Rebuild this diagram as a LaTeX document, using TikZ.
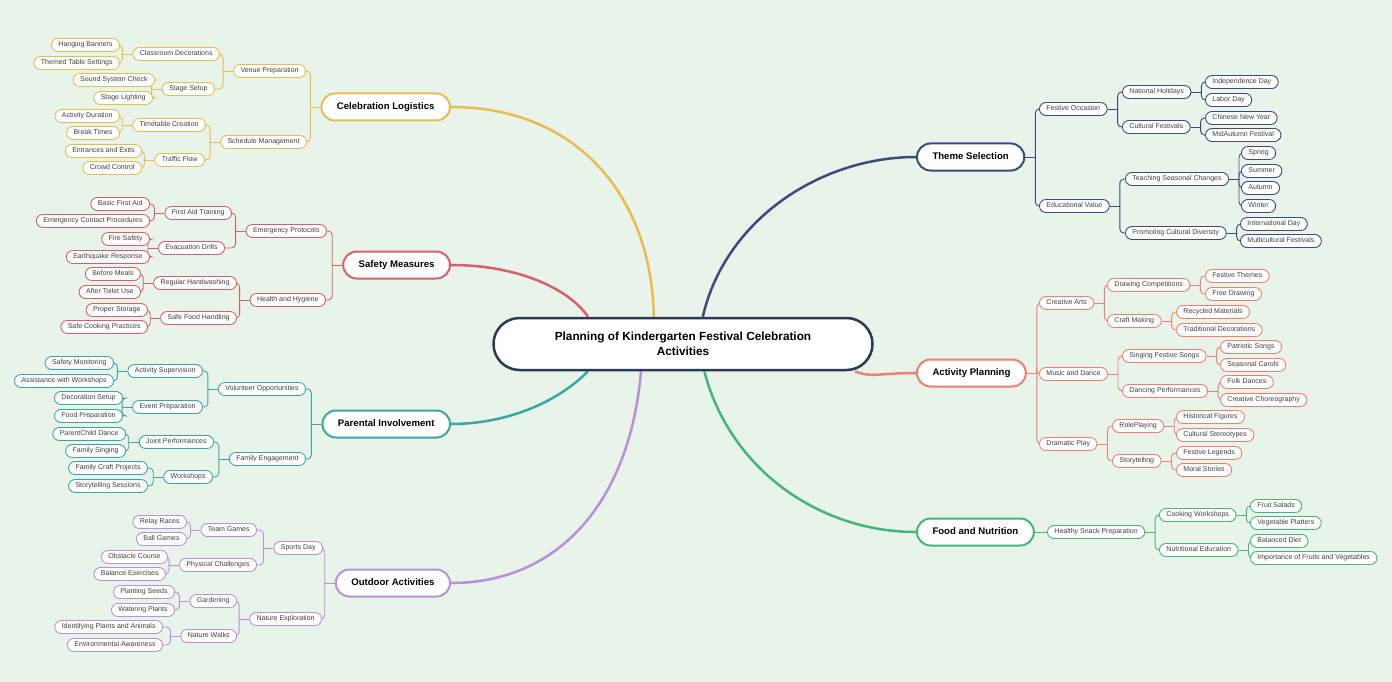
\documentclass[tikz,border=0pt]{standalone}
\usepackage{fontspec}
\setmainfont{Liberation Sans}
\usetikzlibrary{calc}
\definecolor{bgc}{HTML}{E8F3EA}
\definecolor{cY}{HTML}{E8BC50}
\definecolor{cR}{HTML}{D9606B}
\definecolor{cT}{HTML}{3AA8A0}
\definecolor{cP}{HTML}{B990DB}
\definecolor{cN}{HTML}{3E497C}
\definecolor{cS}{HTML}{F07F70}
\definecolor{cG}{HTML}{45B57C}
\definecolor{cC}{HTML}{2A3A4F}
\pgfdeclarelayer{back}\pgfdeclarelayer{edges}
\pgfsetlayers{back,edges,main}
\tikzset{
 mainnode/.style={draw, line width=2pt, fill=white, rounded corners=13.5pt, minimum height=27pt, inner xsep=15.5pt, inner ysep=0pt, text height=6.8pt, text depth=2.2pt, font=\fontsize{9.6}{11}\selectfont\bfseries, text=black},
 subnode/.style={draw, line width=0.9pt, fill=white, rounded corners=6.5pt, minimum height=13pt, inner xsep=7pt, inner ysep=0pt, text height=4.7pt, text depth=1.9pt, font=\fontsize{7}{8}\selectfont, text=black!75},
 conn/.style={line width=0.9pt},
 maincurve/.style={line width=2.5pt},
 centralnode/.style={draw=cC, line width=2.5pt, fill=white, rounded corners=26pt, minimum width=379pt, minimum height=52pt, align=center, font=\fontsize{11.8}{15}\selectfont\bfseries},
}
\newcommand\mmLeft[3]{%
 \draw[conn,#1] (#2.west) -- ++(-10,0) coordinate (#2-b);
 \foreach \k in {#3} {\draw[conn,#1,rounded corners=4pt] (#2-b) |- (\k.east);}
}
\newcommand\mmRight[3]{%
 \draw[conn,#1] (#2.east) -- ++(10,0) coordinate (#2-b);
 \foreach \k in {#3} {\draw[conn,#1,rounded corners=4pt] (#2-b) |- (\k.west);}
}
\begin{document}
\begin{tikzpicture}[x=1pt,y=-1pt]
\begin{pgfonlayer}{back}
\fill[bgc] (0,0) rectangle (1392,682);
\end{pgfonlayer}
\useasboundingbox (0,0) rectangle (1392,682);

\node[centralnode] (c) at (683,344) {Planning of Kindergarten Festival Celebration\\Activities};

% ---------- Celebration Logistics
\begin{scope}[every node/.append style={anchor=east}]
\node[mainnode,draw=cY] (cl) at (451,107) {Celebration Logistics};
\node[subnode,draw=cY] (vp) at (306,71) {Venue Preparation};
\node[subnode,draw=cY] (smg) at (307,142) {Schedule Management};
\node[subnode,draw=cY] (cd) at (220,54) {Classroom Decorations};
\node[subnode,draw=cY] (ss) at (215,89) {Stage Setup};
\node[subnode,draw=cY] (tc) at (206,125) {Timetable Creation};
\node[subnode,draw=cY] (tf) at (205,160) {Traffic Flow};
\node[subnode,draw=cY] (hb) at (120,45) {Hanging Banners};
\node[subnode,draw=cY] (tts) at (120,63) {Themed Table Settings};
\node[subnode,draw=cY] (ssc) at (155,80) {Sound System Check};
\node[subnode,draw=cY] (sl) at (153,98) {Stage Lighting};
\node[subnode,draw=cY] (ad) at (120,116) {Activity Duration};
\node[subnode,draw=cY] (bt) at (120,133) {Break Times};
\node[subnode,draw=cY] (ee) at (142,151) {Entrances and Exits};
\node[subnode,draw=cY] (cc) at (142,168) {Crowd Control};
% ---------- Safety Measures
\node[mainnode,draw=cR] (sf) at (451,265) {Safety Measures};
\node[subnode,draw=cR] (ep) at (327,231) {Emergency Protocols};
\node[subnode,draw=cR] (hh) at (326,300) {Health and Hygiene};
\node[subnode,draw=cR] (fat) at (232,213) {First Aid Training};
\node[subnode,draw=cR] (evd) at (225,248) {Evacuation Drills};
\node[subnode,draw=cR] (rh) at (237,283) {Regular Handwashing};
\node[subnode,draw=cR] (sfh) at (237,318) {Safe Food Handling};
\node[subnode,draw=cR] (bfa) at (150,204) {Basic First Aid};
\node[subnode,draw=cR] (ecp) at (150,221) {Emergency Contact Procedures};
\node[subnode,draw=cR] (fs) at (150,239) {Fire Safety};
\node[subnode,draw=cR] (er) at (150,257) {Earthquake Response};
\node[subnode,draw=cR] (bm) at (141,274) {Before Meals};
\node[subnode,draw=cR] (atu) at (141,292) {After Toilet Use};
\node[subnode,draw=cR] (ps) at (148,310) {Proper Storage};
\node[subnode,draw=cR] (scp) at (148,327) {Safe Cooking Practices};
% ---------- Parental Involvement
\node[mainnode,draw=cT] (pi) at (451,424) {Parental Involvement};
\node[subnode,draw=cT] (vo) at (306,389) {Volunteer Opportunities};
\node[subnode,draw=cT] (fe) at (306,459) {Family Engagement};
\node[subnode,draw=cT] (as) at (203,371) {Activity Supervision};
\node[subnode,draw=cT] (evp) at (203,407) {Event Preparation};
\node[subnode,draw=cT] (jp) at (214,442) {Joint Performances};
\node[subnode,draw=cT] (ws) at (213,477) {Workshops};
\node[subnode,draw=cT] (smo) at (114,363) {Safety Monitoring};
\node[subnode,draw=cT] (aww) at (114,381) {Assistance with Workshops};
\node[subnode,draw=cT] (ds) at (123,398) {Decoration Setup};
\node[subnode,draw=cT] (fp) at (123,416) {Food Preparation};
\node[subnode,draw=cT] (pcd) at (126,434) {ParentChild Dance};
\node[subnode,draw=cT] (fsi) at (126,451) {Family Singing};
\node[subnode,draw=cT] (fcp) at (148,468) {Family Craft Projects};
\node[subnode,draw=cT] (sts) at (148,486) {Storytelling Sessions};
% ---------- Outdoor Activities
\node[mainnode,draw=cP] (oa) at (451,583) {Outdoor Activities};
\node[subnode,draw=cP] (sd) at (323,548) {Sports Day};
\node[subnode,draw=cP] (nex) at (322,619) {Nature Exploration};
\node[subnode,draw=cP] (tg) at (257,530) {Team Games};
\node[subnode,draw=cP] (pc) at (257,565) {Physical Challenges};
\node[subnode,draw=cP] (gd) at (237,601) {Gardening};
\node[subnode,draw=cP] (nw) at (237,636) {Nature Walks};
\node[subnode,draw=cP] (rr) at (187,522) {Relay Races};
\node[subnode,draw=cP] (bgm) at (187,539) {Ball Games};
\node[subnode,draw=cP] (oc) at (168,557) {Obstacle Course};
\node[subnode,draw=cP] (be) at (166,574) {Balance Exercises};
\node[subnode,draw=cP] (pls) at (175,592) {Planting Seeds};
\node[subnode,draw=cP] (wp) at (175,610) {Watering Plants};
\node[subnode,draw=cP] (ipa) at (163,627) {Identifying Plants and Animals};
\node[subnode,draw=cP] (eaw) at (163,645) {Environmental Awareness};
\end{scope}

\begin{scope}[every node/.append style={anchor=west}]
% ---------- Theme Selection
\node[mainnode,draw=cN] (ts) at (916,157) {Theme Selection};
\node[subnode,draw=cN] (fo) at (1039,109) {Festive Occasion};
\node[subnode,draw=cN] (ev) at (1039,206) {Educational Value};
\node[subnode,draw=cN] (nh) at (1122,92) {National Holidays};
\node[subnode,draw=cN] (cf) at (1122,127) {Cultural Festivals};
\node[subnode,draw=cN] (ind) at (1205,82) {Independence Day};
\node[subnode,draw=cN] (ld) at (1205,100) {Labor Day};
\node[subnode,draw=cN] (cny) at (1205,118) {Chinese New Year};
\node[subnode,draw=cN] (maf) at (1205,135) {MidAutumn Festival};
\node[subnode,draw=cN] (tsc) at (1125,179) {Teaching Seasonal Changes};
\node[subnode,draw=cN] (pcdv) at (1125,233) {Promoting Cultural Diversity};
\node[subnode,draw=cN] (spr) at (1241,153) {Spring};
\node[subnode,draw=cN] (sum) at (1241,171) {Summer};
\node[subnode,draw=cN] (aut) at (1241,188) {Autumn};
\node[subnode,draw=cN] (win) at (1241,206) {Winter};
\node[subnode,draw=cN] (intd) at (1240,224) {International Day};
\node[subnode,draw=cN] (mcf) at (1240,241) {Multicultural Festivals};
% ---------- Activity Planning
\node[mainnode,draw=cS] (ap) at (916,373) {Activity Planning};
\node[subnode,draw=cS] (ca) at (1039,303) {Creative Arts};
\node[subnode,draw=cS] (md) at (1039,374) {Music and Dance};
\node[subnode,draw=cS] (dp) at (1039,444) {Dramatic Play};
\node[subnode,draw=cS] (dc) at (1107,285) {Drawing Competitions};
\node[subnode,draw=cS] (cm) at (1107,321) {Craft Making};
\node[subnode,draw=cS] (fth) at (1205,276) {Festive Themes};
\node[subnode,draw=cS] (fd) at (1205,294) {Free Drawing};
\node[subnode,draw=cS] (rm) at (1176,312) {Recycled Materials};
\node[subnode,draw=cS] (td) at (1176,330) {Traditional Decorations};
\node[subnode,draw=cS] (sfs) at (1122,356) {Singing Festive Songs};
\node[subnode,draw=cS] (dpf) at (1122,391) {Dancing Performances};
\node[subnode,draw=cS] (pas) at (1220,347) {Patriotic Songs};
\node[subnode,draw=cS] (sc) at (1220,365) {Seasonal Carols};
\node[subnode,draw=cS] (fkd) at (1220,382) {Folk Dances};
\node[subnode,draw=cS] (cch) at (1220,400) {Creative Choreography};
\node[subnode,draw=cS] (rp) at (1112,426) {RolePlaying};
\node[subnode,draw=cS] (st) at (1112,461) {Storytelling};
\node[subnode,draw=cS] (hf) at (1176,417) {Historical Figures};
\node[subnode,draw=cS] (cs) at (1176,435) {Cultural Stereotypes};
\node[subnode,draw=cS] (fl) at (1176,453) {Festive Legends};
\node[subnode,draw=cS] (ms) at (1176,470) {Moral Stories};
% ---------- Food and Nutrition
\node[mainnode,draw=cG] (fn) at (916,532) {Food and Nutrition};
\node[subnode,draw=cG] (hs) at (1047,532) {Healthy Snack Preparation};
\node[subnode,draw=cG] (cw) at (1159,515) {Cooking Workshops};
\node[subnode,draw=cG] (nue) at (1159,550) {Nutritional Education};
\node[subnode,draw=cG] (fsa) at (1250,506) {Fruit Salads};
\node[subnode,draw=cG] (vpl) at (1250,523) {Vegetable Platters};
\node[subnode,draw=cG] (bd) at (1250,541) {Balanced Diet};
\node[subnode,draw=cG] (ifv) at (1250,558) {Importance of Fruits and Vegetables};
\end{scope}

\begin{pgfonlayer}{edges}
% main curves
\draw[maincurve,cY] (c.137) .. controls (652,200) and (580,107) .. (cl.east);
\draw[maincurve,cR] (c.164) .. controls (570,290) and (520,265) .. (sf.east);
\draw[maincurve,cT] (c.196) .. controls (560,400) and (510,424) .. (pi.east);
\draw[maincurve,cP] (c.213) .. controls (630,500) and (560,583) .. (oa.east);
\draw[maincurve,cN] (c.54) .. controls (725,220) and (820,157) .. (ts.west);
\draw[maincurve,cS] (c.351) .. controls (870,378) and (880,373) .. (ap.west);
\draw[maincurve,cG] (c.308) .. controls (730,470) and (820,532) .. (fn.west);
% left trees
\mmLeft{cY}{cl}{vp,smg}
\mmLeft{cY}{vp}{cd,ss}
\mmLeft{cY}{smg}{tc,tf}
\mmLeft{cY}{cd}{hb,tts}
\mmLeft{cY}{ss}{ssc,sl}
\mmLeft{cY}{tc}{ad,bt}
\mmLeft{cY}{tf}{ee,cc}
\mmLeft{cR}{sf}{ep,hh}
\mmLeft{cR}{ep}{fat,evd}
\mmLeft{cR}{hh}{rh,sfh}
\mmLeft{cR}{fat}{bfa,ecp}
\mmLeft{cR}{evd}{fs,er}
\mmLeft{cR}{rh}{bm,atu}
\mmLeft{cR}{sfh}{ps,scp}
\mmLeft{cT}{pi}{vo,fe}
\mmLeft{cT}{vo}{as,evp}
\mmLeft{cT}{fe}{jp,ws}
\mmLeft{cT}{as}{smo,aww}
\mmLeft{cT}{evp}{ds,fp}
\mmLeft{cT}{jp}{pcd,fsi}
\mmLeft{cT}{ws}{fcp,sts}
\mmLeft{cP}{oa}{sd,nex}
\mmLeft{cP}{sd}{tg,pc}
\mmLeft{cP}{nex}{gd,nw}
\mmLeft{cP}{tg}{rr,bgm}
\mmLeft{cP}{pc}{oc,be}
\mmLeft{cP}{gd}{pls,wp}
\mmLeft{cP}{nw}{ipa,eaw}
% right trees
\mmRight{cN}{ts}{fo,ev}
\mmRight{cN}{fo}{nh,cf}
\mmRight{cN}{ev}{tsc,pcdv}
\mmRight{cN}{nh}{ind,ld}
\mmRight{cN}{cf}{cny,maf}
\mmRight{cN}{tsc}{spr,sum,aut,win}
\mmRight{cN}{pcdv}{intd,mcf}
\mmRight{cS}{ap}{ca,md,dp}
\mmRight{cS}{ca}{dc,cm}
\mmRight{cS}{md}{sfs,dpf}
\mmRight{cS}{dp}{rp,st}
\mmRight{cS}{dc}{fth,fd}
\mmRight{cS}{cm}{rm,td}
\mmRight{cS}{sfs}{pas,sc}
\mmRight{cS}{dpf}{fkd,cch}
\mmRight{cS}{rp}{hf,cs}
\mmRight{cS}{st}{fl,ms}
\draw[conn,cG] (fn.east) -- (hs.west);
\mmRight{cG}{hs}{cw,nue}
\mmRight{cG}{cw}{fsa,vpl}
\mmRight{cG}{nue}{bd,ifv}
\end{pgfonlayer}
\end{tikzpicture}
\end{document}
